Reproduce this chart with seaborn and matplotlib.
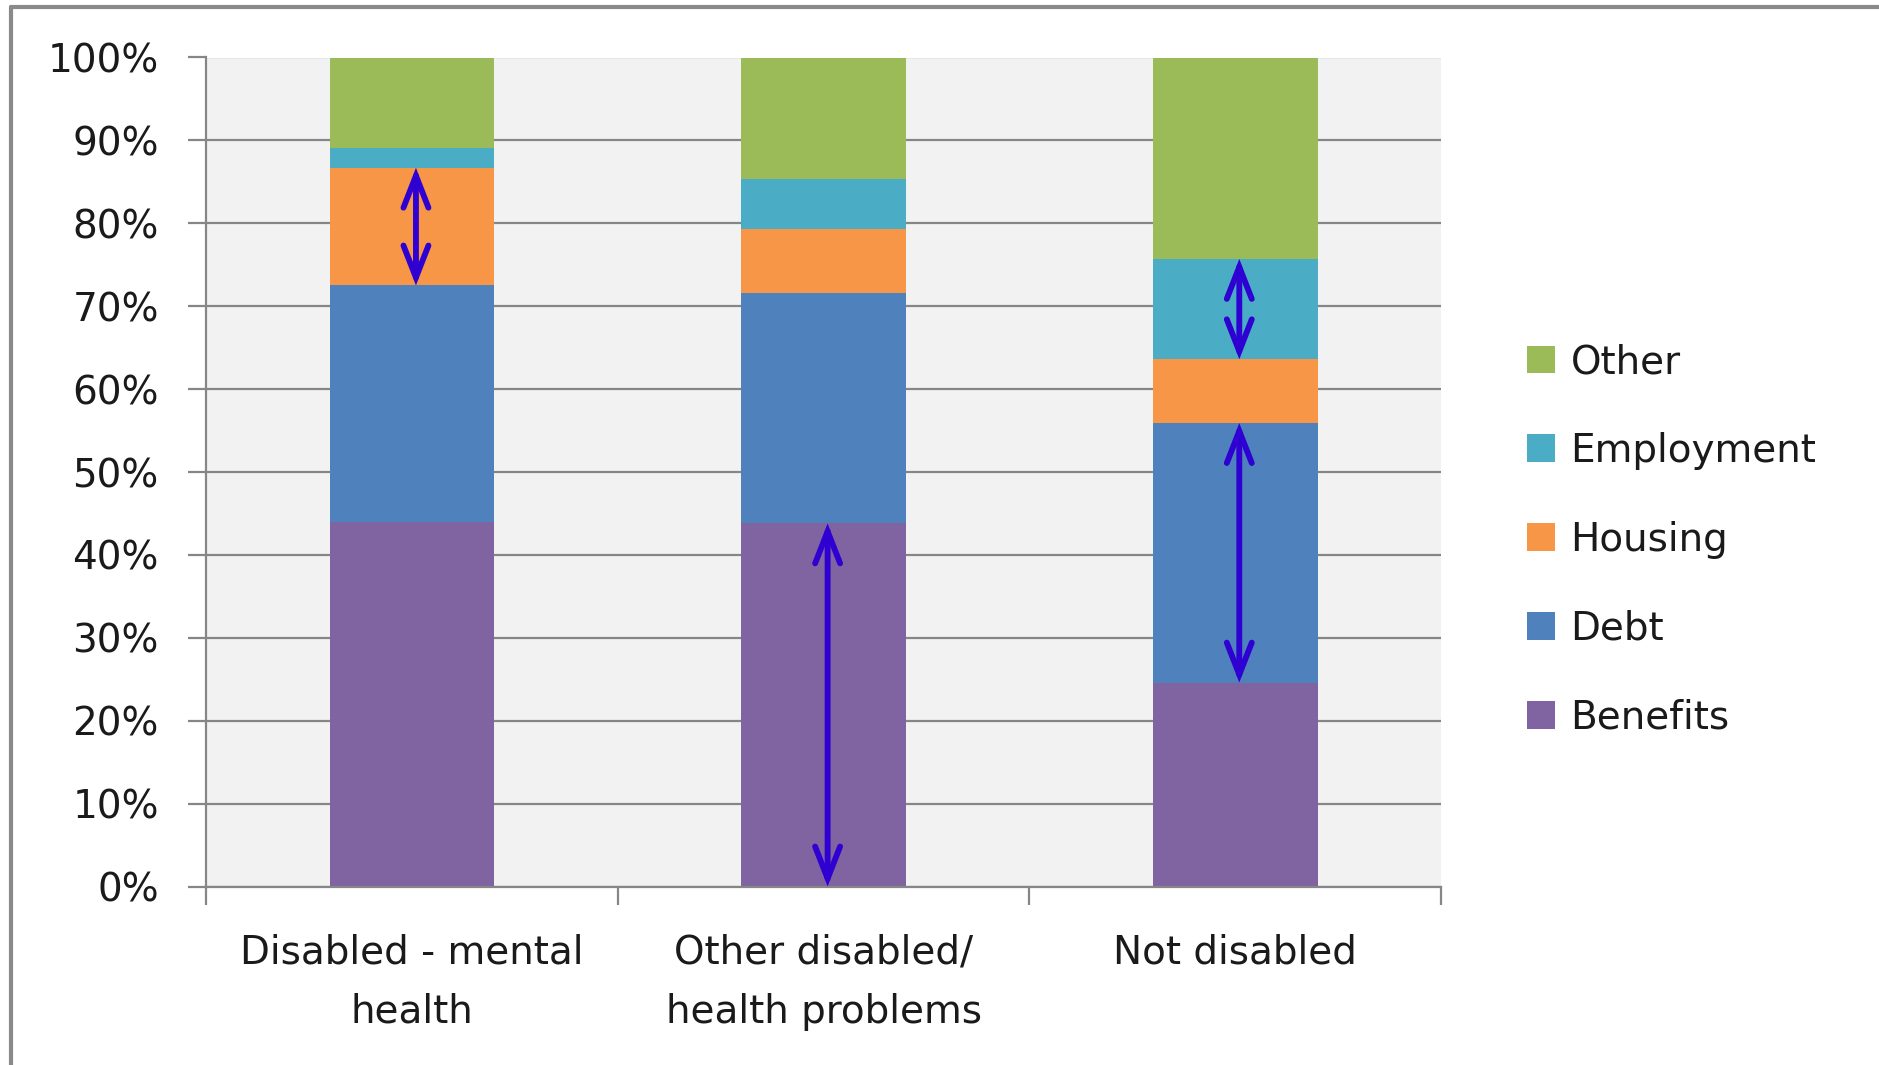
import matplotlib
matplotlib.use("Agg")
import matplotlib.pyplot as plt
from matplotlib.patches import Patch
from matplotlib.lines import Line2D
import numpy as np
import pandas as pd
import seaborn as sns

# Share of advice issues by disability status (percent of each group)
categories = ["Disabled - mental\nhealth", "Other disabled/\nhealth problems", "Not disabled"]
series_names = ["Benefits", "Debt", "Housing", "Employment", "Other"]
benefits = [44.0, 43.8, 24.6]
debt = [28.5, 27.8, 31.3]
housing = [14.2, 7.7, 7.7]
employment = [2.4, 6.0, 12.1]
other = [10.9, 14.7, 24.3]
series_colors = ["#8064A2", "#4F81BD", "#F79646", "#4BACC6", "#9BBB59"]
y_ticks = [0, 10, 20, 30, 40, 50, 60, 70, 80, 90, 100]
y_tick_labels = ["0%", "10%", "20%", "30%", "40%", "50%", "60%", "70%", "80%", "90%", "100%"]

# Segments highlighted with double-headed arrows: (category index, series name)
highlighted = [(0, "Housing"), (1, "Benefits"), (2, "Employment"), (2, "Debt")]

values = {
    "Benefits": benefits,
    "Debt": debt,
    "Housing": housing,
    "Employment": employment,
    "Other": other,
}

rows = []
for name in series_names:
    for cat, v in zip(categories, values[name]):
        rows.append({"category": cat, "series": name, "value": v})
df = pd.DataFrame(rows)
df["top"] = df.groupby("category")["value"].cumsum()
df["bottom"] = df["top"] - df["value"]

sns.set_theme(style="white")
plt.rcParams["font.family"] = ["DejaVu Sans"]

W, H = 1879, 1065
fig = plt.figure(figsize=(W / 100, H / 100), dpi=100)
fig.patch.set_facecolor("white")

ax_left, ax_right = 206 / W, 1441 / W
ax_top, ax_bot = 1 - 57.5 / H, 1 - 886.5 / H
ax = fig.add_axes([ax_left, ax_bot, ax_right - ax_left, ax_top - ax_bot])
ax.set_facecolor("#F2F2F2")

grid_color = "#868686"
for y in y_ticks:
    ax.axhline(y, color=grid_color, lw=1.6, zorder=0.5)

# Stacked bars: draw cumulative tops from the highest layer down
for name, color in reversed(list(zip(series_names, series_colors))):
    sub = df[df["series"] == name]
    sns.barplot(data=sub, x="category", y="top", order=categories, color=color,
                width=0.4, saturation=1, ax=ax, zorder=2, linewidth=0)

arrow_color = "#2E00D2"
for idx, name in highlighted:
    row = df[(df["category"] == categories[idx]) & (df["series"] == name)].iloc[0]
    ax.annotate("", xy=(idx + 0.01, row["bottom"]), xytext=(idx + 0.01, row["top"]),
                arrowprops=dict(arrowstyle="<->,head_length=1.15,head_width=0.45",
                                color=arrow_color, lw=4.2, mutation_scale=20,
                                shrinkA=0, shrinkB=0, capstyle="round",
                                joinstyle="miter"),
                zorder=5)

ax.set_xlim(-0.5, len(categories) - 0.5)
ax.set_ylim(0, 100)
ax.set_xlabel("")
ax.set_ylabel("")

ax.set_yticks(y_ticks)
ax.set_yticklabels(y_tick_labels)
ax.tick_params(axis="y", which="major", left=True, length=13, width=1.6,
               color=grid_color, pad=21, labelsize=28, labelcolor="#1a1a1a")

# Category boundaries carry the tick marks; labels sit at bar centres
ax.set_xticks(np.arange(-0.5, len(categories), 1.0))
ax.set_xticklabels([])
ax.set_xticks(np.arange(len(categories)), minor=True)
ax.set_xticklabels(categories, minor=True, linespacing=1.7)
ax.tick_params(axis="x", which="major", bottom=True, length=13, width=1.6,
               color=grid_color)
ax.tick_params(axis="x", which="minor", bottom=False, length=0, pad=34,
               labelsize=28, labelcolor="#1a1a1a")

for side in ["top", "right"]:
    ax.spines[side].set_visible(False)
for side in ["left", "bottom"]:
    ax.spines[side].set_color(grid_color)
    ax.spines[side].set_linewidth(1.6)
    ax.spines[side].set_zorder(3)

# Legend, top layer first
handles = [Patch(facecolor=c, edgecolor="none", label=n)
           for n, c in reversed(list(zip(series_names, series_colors)))]
fig.legend(handles=handles, loc="upper left",
           bbox_to_anchor=(1492 / W, 1 - 308 / H), frameon=False,
           fontsize=28, handlelength=0.72, handleheight=0.72,
           handletextpad=0.4, labelspacing=1.31, labelcolor="#1a1a1a")

# Outer chart frame
fig.add_artist(Line2D([10.5 / W, 10.5 / W], [0, 1 - 6.5 / H], transform=fig.transFigure,
                      color="#8a8a8a", lw=3))
fig.add_artist(Line2D([10.5 / W, 1], [1 - 6.5 / H, 1 - 6.5 / H], transform=fig.transFigure,
                      color="#8a8a8a", lw=3))

fig.savefig("out.png", dpi=100, facecolor="white")
